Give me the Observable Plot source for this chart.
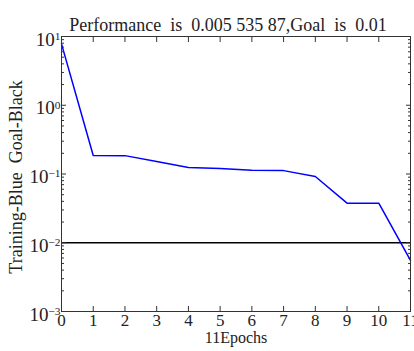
<!DOCTYPE html>
<html><head><meta charset="utf-8">
<script src="https://cdn.jsdelivr.net/npm/d3@7"></script>
<script src="https://cdn.jsdelivr.net/npm/@observablehq/plot@0.6"></script>
<style>
body{margin:0;background:#fff;font-family:'Liberation Serif',serif}
</style>
</head><body><div id="chart"></div>
<script>
const epochs = [0, 1, 2, 3, 4, 5, 6, 7, 8, 9, 10, 11];
const performance = [7.8, 0.186, 0.185, 0.152, 0.124, 0.12, 0.113, 0.112, 0.092, 0.0377, 0.0377, 0.00553587];
const goal = 0.01;
const xTicks = [0, 1, 2, 3, 4, 5, 6, 7, 8, 9, 10, 11];
const yTicks = [1e-3, 1e-2, 1e-1, 1, 10];
const yTickLabels = ["10^-3", "10^-2", "10^-1", "10^0", "10^1"];
const title = "Performance  is  0.005 535 87,Goal  is  0.01";
const xLabel = "11Epochs";
const yLabel = "Training-Blue  Goal-Black";

const data = epochs.map((e, i) => ({epoch: e, perf: performance[i]}));
const minorTicks = [];
for (let k = -3; k < 1; k++) for (let m = 2; m <= 9; m++) minorTicks.push(m * Math.pow(10, k));

const fam = "Liberation Serif, Times New Roman, serif";
const tickStyle = {stroke: "#333", strokeWidth: 1};
const chart = Plot.plot({
  width: 414, height: 351,
  marginLeft: 61, marginRight: 4, marginTop: 36, marginBottom: 40,
  style: {background: "#fff", color: "#222", fontSize: "16px", fontFamily: fam},
  x: {domain: [0, 11]},
  y: {type: "log", domain: [1e-3, 10]},
  marks: [
    Plot.ruleY([goal], {stroke: "#000", strokeWidth: 1.6}),
    Plot.line(data, {x: "epoch", y: "perf", stroke: "#0000ff", strokeWidth: 1.5}),
    Plot.frame({stroke: "#333", strokeWidth: 1}),
    // x axis bottom
    Plot.axisX({anchor: "bottom", ticks: xTicks, tickSize: -5, tickFormat: () => "", label: null, ...tickStyle}),
    Plot.axisX({anchor: "bottom", ticks: xTicks, tickSize: 0, tickPadding: 2, fontSize: 17,
      tickFormat: d => String(d), label: null, fill: "#222"}),
    Plot.axisX({anchor: "top", ticks: xTicks, tickSize: -5, tickFormat: () => "", label: null, ...tickStyle}),
    // y axis left
    Plot.axisY({anchor: "left", ticks: yTicks, tickSize: -5, tickFormat: () => "", label: null, ...tickStyle}),
    Plot.axisY({anchor: "left", ticks: minorTicks, tickSize: -3, tickFormat: () => "", label: null, ...tickStyle}),
    Plot.axisY({anchor: "left", ticks: yTicks, tickSize: 0, tickPadding: 1, dy: 3, fontSize: 19,
      tickFormat: d => yTickLabels[yTicks.indexOf(d)], label: null, fill: "#222"}),
    // y axis right
    Plot.axisY({anchor: "right", ticks: yTicks, tickSize: -5, tickFormat: () => "", label: null, ...tickStyle}),
    Plot.axisY({anchor: "right", ticks: minorTicks, tickSize: -3, tickFormat: () => "", label: null, ...tickStyle}),
    // texts
    Plot.text([title], {frameAnchor: "top", textAnchor: "middle", dy: -18, dx: -8, fontSize: 18, fill: "#222"}),
    Plot.text([xLabel], {frameAnchor: "bottom", textAnchor: "middle", dy: 31, dx: 0, fontSize: 16, fill: "#222"}),
    Plot.text([yLabel], {frameAnchor: "left", textAnchor: "middle", rotate: -90, dx: -45, dy: 3, fontSize: 18, fill: "#222"})
  ]
});
chart.setAttribute("font-family", fam);
document.getElementById("chart").appendChild(chart);

// render "10^n" tick labels with a superscript exponent
chart.querySelectorAll('g[aria-label="y-axis tick label"] text').forEach(t => {
  const s = t.textContent;
  const m = s.match(/^10\^(-?\d+)$/);
  if (!m) return;
  t.textContent = "10";
  const sup = document.createElementNS("http://www.w3.org/2000/svg", "tspan");
  sup.setAttribute("dy", "-0.5em");
  sup.setAttribute("font-size", "0.6em");
  sup.textContent = m[1].replace("-", "\u2212");
  t.appendChild(sup);
});
chart.querySelectorAll("text").forEach(t => t.setAttribute("font-family", fam));
</script>
</body></html>
